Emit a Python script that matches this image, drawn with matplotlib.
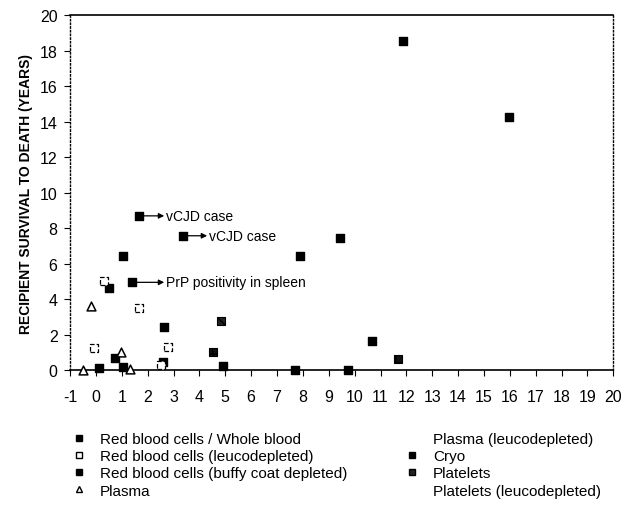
import matplotlib
matplotlib.use("Agg")
import matplotlib.pyplot as plt
from matplotlib.lines import Line2D

plt.rcParams['font.family'] = ['Liberation Sans', 'DejaVu Sans']
plt.rcParams['axes.unicode_minus'] = False

# survival from transfusion to death (years) vs time (x)
rbc_x = [1.65, 3.36, 1.03, 7.88, 1.38, 0.52, 2.65, 4.9, 0.13, 1.03, 7.69, 11.88, 15.98, 9.43, 2.6]
rbc_y = [8.7, 7.58, 6.46, 6.46, 4.96, 4.64, 2.43, 0.27, 0.12, 0.18, 0.0, 18.55, 14.24, 7.44, 0.5]

rbc_leuco_x = [-0.09, 2.78, 2.52, 1.65, 0.32]
rbc_leuco_y = [1.25, 1.3, 0.31, 3.5, 5.05]

rbc_buffy_x = [0.72, 10.66, 9.73]
rbc_buffy_y = [0.69, 1.68, 0.05]

plasma_x = [-0.19, 0.97, -0.5, 1.3]
plasma_y = [3.64, 1.04, 0.0, 0.08]

cryo_x = [11.69, 4.52]
cryo_y = [0.65, 1.02]

platelets_x = [4.84]
platelets_y = [2.8]

notes = ["vCJD case", "vCJD case", "PrP positivity in spleen"]
note_from = [(1.85, 8.7), (3.56, 7.58), (1.58, 4.96)]
note_to = [(2.64, 8.7), (4.3, 7.58), (2.64, 4.96)]

fig = plt.figure(figsize=(6.36, 5.1), dpi=100)
ax = fig.add_axes([0.1101, 0.2716, 0.8543, 0.697])

ms = 34
kw = dict(clip_on=False, zorder=3)
ax.scatter(rbc_x, rbc_y, marker='s', s=ms, color='black', **kw)
ax.scatter(rbc_buffy_x, rbc_buffy_y, marker='s', s=ms, color='black', **kw)
ax.scatter(rbc_leuco_x, rbc_leuco_y, marker='s', s=ms, facecolor='white',
           edgecolor='black', linestyle='--', linewidth=0.9, **kw)
ax.scatter(plasma_x, plasma_y, marker='^', s=ms + 6, facecolor='white',
           edgecolor='black', linewidth=1.1, **kw)
ax.scatter(cryo_x, cryo_y, marker='s', s=ms, facecolor='#111111',
           edgecolor='black', hatch='++', linewidth=0.8, **kw)
ax.scatter(platelets_x, platelets_y, marker='s', s=ms, facecolor='#222222',
           edgecolor='black', hatch='xx', linewidth=0.8, **kw)

for txt, p0, p1 in zip(notes, note_from, note_to):
    ax.annotate('', xy=p1, xytext=p0,
                arrowprops=dict(arrowstyle='-|>', color='black', lw=0.9,
                                mutation_scale=8, shrinkA=0, shrinkB=0))
    ax.text(p1[0] + 0.08, p1[1], txt, fontsize=10, va='center', ha='left')

ax.set_xlim(-1, 20)
ax.set_ylim(0, 20)
ax.set_xticks(range(-1, 21))
ax.set_yticks(range(0, 21, 2))
ax.tick_params(labelsize=11.5, length=4, width=0.8, direction='out')
ax.tick_params(axis='x', pad=9)
ax.tick_params(axis='y', pad=5)

ax.spines['left'].set_linestyle(':')
ax.spines['left'].set_linewidth(1.0)
ax.spines['right'].set_linestyle(':')
ax.spines['right'].set_linewidth(1.0)
ax.spines['top'].set_linewidth(1.2)
ax.spines['bottom'].set_linewidth(1.2)
ax.spines['bottom'].set_zorder(1)

ax.set_ylabel('RECIPIENT SURVIVAL TO DEATH (YEARS)', fontsize=10, fontweight='bold', labelpad=5)

sq = dict(linestyle='none', color='black', markersize=5)
h_left = [
    Line2D([], [], marker='s', **sq),
    Line2D([], [], marker='s', markerfacecolor='white', markeredgecolor='black',
           linestyle='none', markersize=5),
    Line2D([], [], marker='s', **sq),
    Line2D([], [], marker='^', markerfacecolor='white', markeredgecolor='black',
           linestyle='none', markersize=5),
]
l_left = ['Red blood cells / Whole blood', 'Red blood cells (leucodepleted)',
          'Red blood cells (buffy coat depleted)', 'Plasma']
h_right = [
    Line2D([], [], linestyle='none'),
    Line2D([], [], marker='s', **sq),
    Line2D([], [], marker='s', markerfacecolor='#222222', markeredgecolor='black',
           linestyle='none', markersize=5),
    Line2D([], [], linestyle='none'),
]
l_right = ['Plasma (leucodepleted)', 'Cryo', 'Platelets', 'Platelets (leucodepleted)']

lg_kw = dict(frameon=False, fontsize=11, handlelength=1.0, handletextpad=0.85,
             labelspacing=0.21, borderpad=0, borderaxespad=0, loc='upper left')
fig.legend(h_left, l_left, bbox_to_anchor=(71.5 / 636, 1 - 433 / 510), **lg_kw)
fig.legend(h_right, l_right, bbox_to_anchor=(404.5 / 636, 1 - 433 / 510), **lg_kw)

fig.savefig('out.png', dpi=100)
